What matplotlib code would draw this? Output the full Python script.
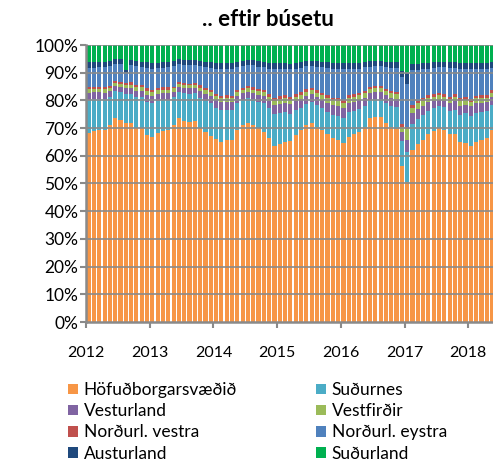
import matplotlib
matplotlib.use("Agg")
import matplotlib.pyplot as plt
import numpy as np
from matplotlib.patches import Patch

plt.rcParams['font.family'] = ['Lato', 'DejaVu Sans']

years = ['2012', '2013', '2014', '2015', '2016', '2017', '2018']
series_names = ['Höfuðborgarsvæðið', 'Suðurnes', 'Vesturland', 'Vestfirðir',
                'Norðurl. vestra', 'Norðurl. eystra', 'Austurland', 'Suðurland']
colors = ['#F79646', '#4BACC6', '#8064A2', '#9BBB59',
          '#C0504D', '#4F81BD', '#1F497D', '#00B050']

# monthly shares (%) Jan 2012 - May 2018
hofud = [68.3, 69.0, 69.3, 69.3, 71.1, 73.5, 72.9, 71.9, 71.9, 70.2, 69.9, 67.5,
         66.9, 68.4, 69.0, 69.3, 71.1, 73.5, 72.7, 72.3, 72.5, 70.2, 68.7, 67.3,
         66.0, 65.1, 65.7, 65.7, 69.3, 71.1, 71.9, 71.1, 69.9, 68.7, 66.3, 63.5,
         64.2, 65.1, 65.2, 67.5, 69.2, 71.0, 71.8, 70.5, 69.4, 67.9, 66.3, 65.7,
         64.6, 66.9, 67.7, 68.7, 70.5, 73.5, 74.1, 74.1, 71.9, 70.5, 69.5, 56.3,
         50.6, 62.0, 64.2, 65.7, 67.7, 69.0, 69.9, 69.3, 67.7, 67.7, 65.1, 64.8,
         63.5, 65.1, 65.7, 66.3, 69.3]
sudurnes = [11.8, 11.5, 11.3, 11.2, 10.2, 10.0, 10.2, 10.5, 10.5, 11.0, 11.2, 12.0,
            12.0, 11.4, 11.2, 11.0, 10.0, 9.5, 9.8, 10.0, 10.0, 10.8, 11.2, 11.6,
            11.2, 11.3, 11.0, 10.8, 9.8, 9.2, 9.0, 9.3, 9.6, 10.2, 10.8, 11.6,
            11.2, 10.6, 10.0, 9.0, 8.2, 7.8, 7.8, 7.9, 7.8, 8.0, 8.4, 8.8,
            9.0, 8.8, 8.5, 8.3, 7.5, 6.5, 6.3, 6.3, 7.0, 7.5, 8.0, 9.0,
            10.8, 9.5, 9.2, 9.0, 8.6, 8.2, 8.0, 8.2, 8.6, 9.0, 9.8, 10.5,
            11.0, 10.5, 10.2, 10.0, 9.0]
vesturland = [2.5, 2.4, 2.3, 2.3, 2.0, 1.8, 1.9, 2.0, 2.1, 2.3, 2.4, 2.6,
              2.6, 2.5, 2.4, 2.3, 2.1, 1.9, 2.0, 2.0, 2.0, 2.3, 2.5, 2.6,
              2.8, 2.9, 2.8, 2.8, 2.5, 2.2, 2.2, 2.3, 2.5, 2.6, 2.8, 3.1,
              3.4, 3.4, 3.4, 3.2, 3.0, 2.8, 2.6, 2.8, 3.0, 3.2, 3.5, 3.6,
              3.6, 3.4, 3.3, 3.2, 3.0, 2.8, 2.8, 2.8, 3.0, 3.0, 3.1, 3.2,
              4.3, 3.8, 3.6, 3.4, 3.0, 2.6, 2.4, 2.4, 2.6, 3.0, 3.0, 3.2,
              3.3, 3.3, 3.2, 3.0, 2.8]
vestfirdir = [1.4, 1.3, 1.3, 1.3, 1.1, 1.0, 1.0, 1.1, 1.2, 1.3, 1.3, 1.4,
              1.4, 1.4, 1.3, 1.3, 1.1, 1.0, 1.0, 1.1, 1.1, 1.3, 1.4, 1.4,
              1.5, 1.5, 1.5, 1.5, 1.3, 1.2, 1.2, 1.2, 1.3, 1.4, 1.5, 1.6,
              1.7, 1.7, 1.7, 1.6, 1.6, 1.5, 1.5, 1.5, 1.6, 1.7, 1.8, 1.8,
              1.8, 1.7, 1.7, 1.6, 1.5, 1.3, 1.2, 1.2, 1.4, 1.5, 1.6, 2.0,
              3.8, 2.0, 1.9, 1.8, 1.7, 1.6, 1.5, 1.5, 1.6, 1.7, 1.8, 1.8,
              1.8, 1.8, 1.7, 1.7, 1.6]
nv_vestra = [0.8, 0.8, 0.8, 0.8, 0.7, 0.7, 0.7, 0.7, 0.8, 0.8, 0.8, 0.9,
             0.9, 0.8, 0.8, 0.8, 0.7, 0.7, 0.7, 0.7, 0.7, 0.8, 0.8, 0.9,
             0.9, 0.9, 0.9, 0.9, 0.8, 0.8, 0.8, 0.8, 0.8, 0.9, 0.9, 1.0,
             1.0, 1.0, 1.0, 1.0, 0.9, 0.9, 0.9, 0.9, 0.9, 1.0, 1.0, 1.0,
             1.0, 1.0, 1.0, 0.9, 0.9, 0.9, 0.9, 0.9, 0.9, 0.9, 1.0, 1.0,
             1.0, 1.0, 1.0, 1.0, 1.0, 0.9, 0.9, 0.9, 0.9, 1.0, 1.0, 1.0,
             1.0, 1.0, 1.0, 1.0, 0.9]
ne_eystra = [7.0, 6.8, 6.9, 7.0, 7.2, 6.2, 6.4, 3.8, 6.3, 6.7, 6.4, 7.2,
             7.7, 7.1, 7.1, 7.2, 7.3, 6.4, 6.7, 6.7, 6.5, 6.9, 7.3, 7.9,
             9.0, 9.6, 9.5, 9.8, 8.3, 8.0, 7.6, 7.9, 8.1, 8.1, 9.2, 10.4,
             9.7, 9.4, 9.9, 9.1, 8.9, 8.3, 7.9, 8.6, 9.2, 9.8, 10.3, 10.3,
             11.2, 9.4, 9.1, 8.8, 8.6, 7.2, 7.1, 7.1, 7.8, 8.4, 8.4, 17.0,
             15.5, 12.5, 11.2, 10.3, 9.5, 9.5, 9.3, 9.6, 10.3, 9.2, 10.7, 10.0,
             10.6, 9.6, 9.6, 9.5, 8.2]
austurland = [2.0, 2.0, 2.0, 2.0, 1.9, 1.8, 1.8, 1.0, 1.9, 2.0, 2.0, 2.1,
              2.1, 2.0, 2.0, 2.0, 1.9, 1.8, 1.8, 1.9, 1.9, 2.0, 2.0, 2.1,
              2.1, 2.1, 2.1, 2.1, 2.0, 1.9, 1.9, 1.9, 2.0, 2.0, 2.1, 2.2,
              2.2, 2.2, 2.1, 2.1, 2.0, 2.0, 1.9, 2.0, 2.0, 2.1, 2.2, 2.2,
              2.2, 2.2, 2.1, 2.1, 2.0, 1.9, 1.9, 1.9, 2.0, 2.0, 2.1, 2.0,
              4.0, 2.3, 2.2, 2.2, 2.1, 2.0, 2.0, 2.0, 2.1, 2.1, 2.2, 2.2,
              2.2, 2.2, 2.2, 2.1, 2.0]
sudurland = [6.2, 6.2, 6.1, 6.1, 5.8, 5.0, 5.1, 9.0, 5.3, 5.7, 6.0, 6.3,
             6.4, 6.4, 6.2, 6.1, 5.8, 5.2, 5.3, 5.3, 5.3, 5.7, 6.1, 6.2,
             6.5, 6.6, 6.5, 6.4, 6.0, 5.6, 5.4, 5.5, 5.8, 6.1, 6.4, 6.6,
             6.6, 6.6, 6.7, 6.5, 6.2, 5.7, 5.6, 5.8, 6.1, 6.3, 6.5, 6.6,
             6.6, 6.6, 6.6, 6.4, 6.0, 5.9, 5.7, 5.7, 6.0, 6.2, 6.3, 9.5,
             10.0, 6.9, 6.7, 6.6, 6.4, 6.2, 6.0, 6.1, 6.2, 6.3, 6.4, 6.5,
             6.6, 6.5, 6.4, 6.4, 6.2]

data = np.array([hofud, sudurnes, vesturland, vestfirdir, nv_vestra,
                 ne_eystra, austurland, sudurland], dtype=float)
pct = data / data.sum(axis=0) * 100.0
n = pct.shape[1]
x = np.arange(n)

fig = plt.figure(figsize=(4.93, 4.65), dpi=100)
ax = fig.add_axes([86/493, 1-322/465, 1-86/493, (322-45)/465])

bottom = np.zeros(n)
handles = []
for i in range(len(series_names)):
    ax.bar(x, pct[i], bottom=bottom, width=0.78, color=colors[i],
           linewidth=0, label=series_names[i], zorder=2)
    handles.append(Patch(facecolor=colors[i], edgecolor='none'))
    bottom += pct[i]

ax.set_ylim(0, 100)
ax.set_xlim(-0.5, -0.5 + (493-86) / (63.7/12))
yt = np.arange(0, 101, 10)
ax.set_yticks(yt)
ax.set_yticklabels([f'{v}%' for v in yt], fontsize=12.5)
for v in yt[1:]:
    ax.axhline(v, color='#8A8A8A', lw=1.4, zorder=3, alpha=0.85)

xt = np.arange(-0.5, n, 12)
ax.set_xticks(xt)
ax.set_xticklabels(years[:len(xt)], fontsize=11.5)

for s in ['top', 'right']:
    ax.spines[s].set_visible(False)
for s in ['left', 'bottom']:
    ax.spines[s].set_color('#8A8A8A')
    ax.spines[s].set_linewidth(1.8)
    ax.spines[s].set_zorder(4)
ax.tick_params(axis='y', length=4, width=1.5, color='#8A8A8A', pad=1.5)
ax.tick_params(axis='x', length=4, width=1.5, color='#8A8A8A', pad=13)

fig.text(268/493, 1-19/465, '.. eftir búsetu', ha='center', va='center',
         fontsize=16, fontweight='bold')

left_idx = [0, 2, 4, 6]
right_idx = [1, 3, 5, 7]
for idxs, xpos in [(left_idx, 68/493), (right_idx, 316/493)]:
    fig.legend([handles[i] for i in idxs], [series_names[i] for i in idxs],
               loc='upper left', bbox_to_anchor=(xpos, 1-382/465),
               frameon=False, fontsize=12.5, handlelength=0.55, handleheight=0.55,
               handletextpad=0.35, labelspacing=0.3, borderpad=0,
               borderaxespad=0)

fig.savefig('out.png', dpi=100)
